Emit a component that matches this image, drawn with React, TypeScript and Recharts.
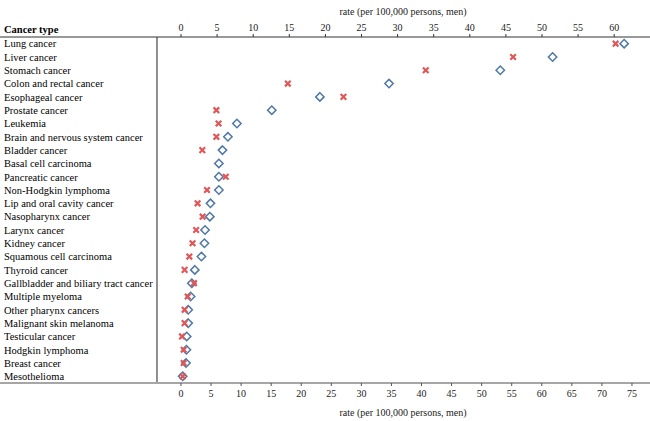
import { ScatterChart, Scatter, XAxis, YAxis, ReferenceLine } from "recharts";

const categories = [
    "Lung cancer",
    "Liver cancer",
    "Stomach cancer",
    "Colon and rectal cancer",
    "Esophageal cancer",
    "Prostate cancer",
    "Leukemia",
    "Brain and nervous system cancer",
    "Bladder cancer",
    "Basal cell carcinoma",
    "Pancreatic cancer",
    "Non-Hodgkin lymphoma",
    "Lip and oral cavity cancer",
    "Nasopharynx cancer",
    "Larynx cancer",
    "Kidney cancer",
    "Squamous cell carcinoma",
    "Thyroid cancer",
    "Gallbladder and biliary tract cancer",
    "Multiple myeloma",
    "Other pharynx cancers",
    "Malignant skin melanoma",
    "Testicular cancer",
    "Hodgkin lymphoma",
    "Breast cancer",
    "Mesothelioma",
];

// red crosses, read against the top axis
const crossRates = [
    60.2, 46.0, 33.9, 14.8, 22.5, 4.9, 5.2, 4.9, 2.95, null, 6.2, 3.6, 2.3,
    3.0, 2.1, 1.6, 1.15, 0.5, 1.8, 0.93, 0.5, 0.5, 0.14, 0.37, 0.37, 0.24,
];

// blue diamonds, read against the bottom axis
const diamondRates = [
    73.7, 61.8, 53.1, 34.6, 23.1, 15.1, 9.3, 7.8, 6.9, 6.3, 6.3, 6.3, 4.9,
    4.8, 4.0, 3.9, 3.4, 2.3, 1.8, 1.6, 1.2, 1.2, 0.95, 0.9, 0.83, 0.28,
];

const topTicks = [0, 5, 10, 15, 20, 25, 30, 35, 40, 45, 50, 55, 60];
const bottomTicks = [0, 5, 10, 15, 20, 25, 30, 35, 40, 45, 50, 55, 60, 65, 70, 75];

const AXIS_TITLE = "rate (per 100,000 persons, men)";
const FONT = "'Liberation Serif', 'Times New Roman', serif";

const crossData = categories
    .map((name, i) => ({ name, idx: i, rate: crossRates[i] }))
    .filter((d) => d.rate != null);
const diamondData = categories.map((name, i) => ({ name, idx: i, rate: diamondRates[i] }));

const CrossShape = (props: any) => {
    const { cx, cy } = props;
    const r = 2.8;
    return (
        <path
            d={`M${cx - r},${cy - r}L${cx + r},${cy + r}M${cx - r},${cy + r}L${cx + r},${cy - r}`}
            stroke="#e15759"
            strokeWidth={2.2}
            fill="none"
        />
    );
};

const DiamondShape = (props: any) => {
    const { cx, cy } = props;
    const r = 4.2;
    return (
        <polygon
            points={`${cx},${cy - r} ${cx + r},${cy} ${cx},${cy + r} ${cx - r},${cy}`}
            stroke="#4e79a7"
            strokeWidth={1.5}
            fill="none"
        />
    );
};

const renderCategoryTick = (props: any) => {
    const { y, payload } = props;
    return (
        <text
            key={`cat-${payload.value}`}
            x={4}
            y={y}
            dy={3.8}
            textAnchor="start"
            fontSize={10.5}
            fontFamily={FONT}
            fill="#000"
        >
            {categories[payload.value]}
        </text>
    );
};

export default function App() {
    return (
        <div style={{ position: "absolute", left: 0, top: 0, width: 650, height: 421, background: "#fff" }}>
            <ScatterChart width={650} height={421} margin={{ top: 0, right: 0, bottom: 0, left: -1 }}>
                <XAxis
                    xAxisId="top"
                    orientation="top"
                    type="number"
                    dataKey="rate"
                    height={37}
                    domain={[-25.07, 64.96]}
                    ticks={topTicks}
                    allowDataOverflow
                    tickSize={3}
                    tickMargin={3}
                    stroke="#333"
                    tick={{ fontSize: 10, fontFamily: FONT, fill: "#222" }}
                />
                <XAxis
                    xAxisId="bottom"
                    orientation="bottom"
                    type="number"
                    dataKey="rate"
                    height={38}
                    domain={[-30.1, 78.0]}
                    ticks={bottomTicks}
                    allowDataOverflow
                    tickSize={3}
                    tickMargin={4}
                    axisLine={{ stroke: "#a6a6a6", strokeWidth: 2 }}
                    tickLine={{ stroke: "#555" }}
                    tick={{ fontSize: 10, fontFamily: FONT, fill: "#222" }}
                />
                <YAxis
                    type="number"
                    dataKey="idx"
                    domain={[-0.5, 25.5]}
                    reversed
                    width={1}
                    ticks={categories.map((_, i) => i)}
                    interval={0}
                    axisLine={false}
                    tickLine={false}
                    tick={renderCategoryTick}
                />
                <ReferenceLine xAxisId="bottom" x={-3.99} stroke="#222" strokeWidth={1} />
                <Scatter
                    name="diamond"
                    data={diamondData}
                    xAxisId="bottom"
                    shape={<DiamondShape />}
                    isAnimationActive={false}
                />
                <Scatter
                    name="cross"
                    data={crossData}
                    xAxisId="top"
                    shape={<CrossShape />}
                    isAnimationActive={false}
                />
            </ScatterChart>
            <svg
                width={650}
                height={421}
                style={{ position: "absolute", left: 0, top: 0, pointerEvents: "none" }}
            >
                <text x={4} y={33} fontSize={10.5} fontWeight="bold" fontFamily={FONT} fill="#000">
                    Cancer type
                </text>
                <text x={403} y={15} textAnchor="middle" fontSize={10} fontFamily={FONT} fill="#222">
                    {AXIS_TITLE}
                </text>
                <text x={403} y={416} textAnchor="middle" fontSize={10} fontFamily={FONT} fill="#222">
                    {AXIS_TITLE}
                </text>
            </svg>
        </div>
    );
}
